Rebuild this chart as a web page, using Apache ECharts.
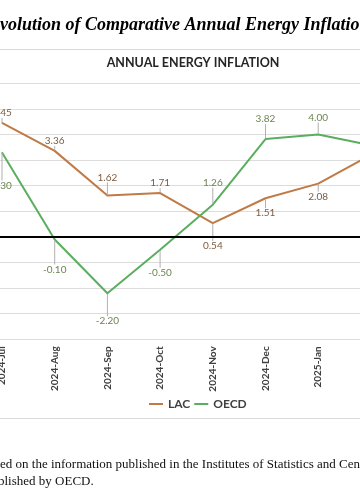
<!DOCTYPE html>
<html>
<head>
<meta charset="utf-8">
<script src="https://cdn.jsdelivr.net/npm/echarts@6/dist/echarts.min.js"></script>
<style>
html,body{margin:0;padding:0;background:#fff;overflow:hidden;width:360px;height:504px;}
#wrap{position:relative;width:360px;height:504px;overflow:hidden;}
#c{position:absolute;left:-30px;top:0;width:460px;height:504px;}
</style>
</head>
<body>
<div id="wrap"><div id="c"></div></div>
<script>
// ---- data ----
const categories = ['2024-Jul','2024-Aug','2024-Sep','2024-Oct','2024-Nov','2024-Dec','2025-Jan','2025-Feb'];
const lacValues  = [4.45, 3.36, 1.62, 1.71, 0.54, 1.51, 2.08, 3.20];
const oecdValues = [3.30, -0.10, -2.20, -0.50, 1.26, 3.82, 4.00, 3.58];
const yTicks = [-4, -3, -2, -1, 0, 1, 2, 3, 4, 5, 6];

// ---- label placement (style only) ----
const lacLabelDy  = [-10, -10, -18, -10, 23, 15, 13, -10];
const oecdLabelDy = [33, 30, 28, 23, -22, -20, -17, -12];

const OX = 30; // container offset (chart is cropped on the left)
const headingFont = 'italic bold 18px "Liberation Serif"';
const noteFont = '13px "Liberation Serif"';
function tw(font, s){
  const c = document.createElement('canvas').getContext('2d');
  c.font = font; return c.measureText(s).width;
}

const chart = echarts.init(document.getElementById('c'), null, {renderer:'canvas'});

function labelFor(color){
  return {show:true, position:'inside', fontFamily:'Lato', fontSize:10, color:color,
    formatter: p => p.value.toFixed(2)};
}

chart.setOption({
  animation:false,
  backgroundColor:'#ffffff',
  grid:{left:5.65, width:421.6, top:83.3, bottom:164.7, containLabel:false},
  xAxis:{type:'category', data:categories, boundaryGap:true,
    axisLine:{show:false}, axisTick:{show:false},
    axisLabel:{rotate:90, margin:7, fontFamily:'Lato', fontWeight:'bold', fontSize:10, color:'#404040'}},
  yAxis:{type:'value', min:yTicks[0], max:yTicks[yTicks.length-1], interval:1,
    axisLabel:{show:false}, axisLine:{show:false}, axisTick:{show:false},
    splitLine:{lineStyle:{color:'#dcdcdc', width:1}}},
  legend:{left:144+OX, top:393, itemGap:4, itemWidth:14, itemHeight:2, icon:'rect',
    textStyle:{fontFamily:'Lato', fontWeight:'bold', fontSize:12, color:'#404040'},
    data:['LAC','OECD']},
  series:[
    {name:'LAC', type:'line', data:lacValues, symbol:'circle', symbolSize:1, showSymbol:true,
     lineStyle:{color:'#c07a45', width:2}, itemStyle:{color:'#c07a45'},
     label:labelFor('#7d5b3f'),
     labelLine:{show:true, lineStyle:{color:'#b0b0b0', width:1}},
     labelLayout: p => ({dy: lacLabelDy[p.dataIndex]}),
     markLine:{silent:true, symbol:'none', label:{show:false},
       lineStyle:{color:'#000', width:2, type:'solid'}, data:[{yAxis:0}]},
     z:3},
    {name:'OECD', type:'line', data:oecdValues, symbol:'circle', symbolSize:1, showSymbol:true,
     lineStyle:{color:'#5aae5e', width:2}, itemStyle:{color:'#5aae5e'},
     label:labelFor('#6c8652'),
     labelLine:{show:true, lineStyle:{color:'#b0b0b0', width:1}},
     labelLayout: p => ({dy: oecdLabelDy[p.dataIndex]}),
     z:3}
  ],
  graphic:[
    {type:'text', x:OX-tw(headingFont,'E'), y:25,
     style:{text:'Evolution of Comparative Annual Energy Inflation', font:headingFont, fill:'#000',
       textAlign:'left', textVerticalAlign:'middle'}},
    {type:'line', shape:{x1:0,y1:49.5,x2:460,y2:49.5}, style:{stroke:'#d9d9d9', lineWidth:1}},
    {type:'text', x:193+OX, y:63,
     style:{text:'ANNUAL ENERGY INFLATION', font:'bold 12.5px Lato', fill:'#262626',
       textAlign:'center', textVerticalAlign:'middle'}},
    {type:'line', shape:{x1:0,y1:418.5,x2:460,y2:418.5}, style:{stroke:'#d9d9d9', lineWidth:1}},
    {type:'text', x:OX-tw(noteFont,'bas'), y:465,
     style:{text:'based on the information published in the Institutes of Statistics and Central Banks', font:noteFont, fill:'#111',
       textAlign:'left', textVerticalAlign:'middle'}},
    {type:'text', x:OX-tw(noteFont,'pu')-2, y:482,
     style:{text:'published by OECD.', font:noteFont, fill:'#111',
       textAlign:'left', textVerticalAlign:'middle'}}
  ]
});
</script>
</body>
</html>
